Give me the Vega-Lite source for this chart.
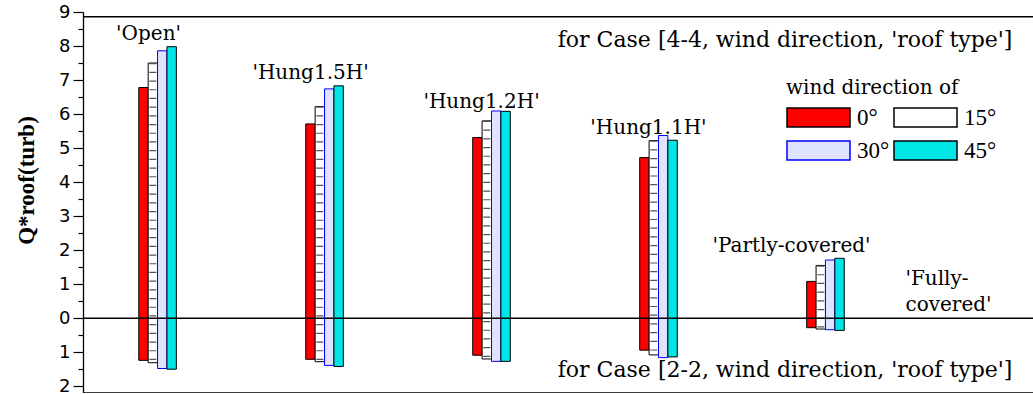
{
  "$schema": "https://vega.github.io/schema/vega-lite/v6.json",
  "width": 984,
  "height": 381,
  "autosize": "none",
  "padding": {"left": 83, "top": 12, "right": 0, "bottom": 0},
  "background": "white",
  "config": {"view": {"stroke": null}},
  "resolve": {"axis": {"y": "independent", "x": "independent"}},
  "datasets": {
    "bars": [
      {"roof": "Open", "dir": "0°", "pos": 6.78, "neg": -1.24},
      {"roof": "Open", "dir": "15°", "pos": 7.5, "neg": -1.31},
      {"roof": "Open", "dir": "30°", "pos": 7.86, "neg": -1.48},
      {"roof": "Open", "dir": "45°", "pos": 7.98, "neg": -1.5},
      {"roof": "Hung1.5H", "dir": "0°", "pos": 5.71, "neg": -1.21},
      {"roof": "Hung1.5H", "dir": "15°", "pos": 6.22, "neg": -1.28},
      {"roof": "Hung1.5H", "dir": "30°", "pos": 6.74, "neg": -1.39},
      {"roof": "Hung1.5H", "dir": "45°", "pos": 6.83, "neg": -1.42},
      {"roof": "Hung1.2H", "dir": "0°", "pos": 5.31, "neg": -1.09},
      {"roof": "Hung1.2H", "dir": "15°", "pos": 5.8, "neg": -1.2},
      {"roof": "Hung1.2H", "dir": "30°", "pos": 6.09, "neg": -1.27},
      {"roof": "Hung1.2H", "dir": "45°", "pos": 6.08, "neg": -1.27},
      {"roof": "Hung1.1H", "dir": "0°", "pos": 4.72, "neg": -0.94},
      {"roof": "Hung1.1H", "dir": "15°", "pos": 5.22, "neg": -1.08},
      {"roof": "Hung1.1H", "dir": "30°", "pos": 5.37, "neg": -1.16},
      {"roof": "Hung1.1H", "dir": "45°", "pos": 5.23, "neg": -1.14},
      {"roof": "Partly-covered", "dir": "0°", "pos": 1.08, "neg": -0.28},
      {"roof": "Partly-covered", "dir": "15°", "pos": 1.55, "neg": -0.32},
      {"roof": "Partly-covered", "dir": "30°", "pos": 1.71, "neg": -0.34},
      {"roof": "Partly-covered", "dir": "45°", "pos": 1.76, "neg": -0.36}
    ]
  },
  "data": {"name": "bars"},
  "layer": [
    {
      "mark": {"type": "bar", "strokeWidth": 1},
      "encoding": {
        "x": {"field": "roof", "type": "nominal", "axis": null,
              "scale": {"domain": ["Open", "Hung1.5H", "Hung1.2H", "Hung1.1H", "Partly-covered", "Fully-covered"], "paddingInner": 0.775, "paddingOuter": 0.334}},
        "xOffset": {"field": "dir", "type": "nominal", "scale": {"domain": ["0°", "15°", "30°", "45°"], "paddingInner": 0, "paddingOuter": 0}},
        "y": {"field": "pos", "type": "quantitative",
              "scale": {"domain": [-2.2, 9], "nice": false, "zero": false},
              "axis": {
                "orient": "left",
                "title": "Q*roof(turb)",
                "values": [-2, -1.5, -1, -0.5, 0, 0.5, 1, 1.5, 2, 2.5, 3, 3.5, 4, 4.5, 5, 5.5, 6, 6.5, 7, 7.5, 8, 8.5, 9],
                "labelExpr": "datum.value % 1 === 0 ? '' + abs(datum.value) : ''",
                "labelOverlap": false,
                "labelFlush": false,
                "labelBound": false,
                "ticks": true,
                "tickSize": 10,
                "tickDash": {"condition": {"test": "datum.value % 1 !== 0", "value": [5, 20]}, "value": [20, 0]},
                "tickColor": "black", "tickWidth": 1.2,
                "domainColor": "black", "domainWidth": 1.3,
                "labelColor": "black", "labelFont": "DejaVu Sans", "labelFontSize": 18, "labelPadding": 3,
                "grid": false,
                "titleFont": "Liberation Serif", "titleFontSize": 23, "titleFontWeight": "bold", "titleColor": "black",
                "titleX": -57, "titleY": 168, "titleAlign": "center", "titleBaseline": "middle"
              }},
        "y2": {"field": "neg"},
        "fill": {"field": "dir", "type": "nominal",
                 "scale": {"domain": ["0°", "15°", "30°", "45°"], "range": ["#ff0000", "#ffffff", "#dfe3ff", "#00e6e6"]},
                 "legend": {"title": "wind direction of", "orient": "none", "legendX": 703, "legendY": 66, "columns": 2, "direction": "horizontal",
                            "symbolType": "M-1,-0.9H5V0.9H-1Z", "symbolSize": 441, "symbolStrokeWidth": 1.5, "symbolOpacity": 1,
                            "labelFont": "Liberation Serif", "labelFontSize": 23, "labelColor": "black", "labelOffset": 48,
                            "titleFont": "DejaVu Serif", "titleFontSize": 20, "titleFontWeight": "normal", "titleColor": "black",
                            "titlePadding": 8, "rowPadding": 8, "columnPadding": 1, "padding": 0}},
        "stroke": {"field": "dir", "type": "nominal",
                   "scale": {"domain": ["0°", "15°", "30°", "45°"], "range": ["#000000", "#000000", "#0000ff", "#000000"]},
                   "legend": {"title": "wind direction of", "orient": "none", "legendX": 703, "legendY": 66, "columns": 2, "direction": "horizontal",
                            "symbolType": "M-1,-0.9H5V0.9H-1Z", "symbolSize": 441, "symbolStrokeWidth": 1.5, "symbolOpacity": 1,
                            "labelFont": "Liberation Serif", "labelFontSize": 23, "labelColor": "black", "labelOffset": 48,
                            "titleFont": "DejaVu Serif", "titleFontSize": 20, "titleFontWeight": "normal", "titleColor": "black",
                            "titlePadding": 8, "rowPadding": 8, "columnPadding": 1, "padding": 0}}
      }
    },
    {
      "transform": [{"filter": "datum.dir === '15°'"}],
      "mark": {"type": "rule", "strokeWidth": 7, "strokeDash": [1.2, 7.5], "color": "#555555"},
      "encoding": {
        "x": {"field": "roof", "type": "nominal", "axis": null},
        "xOffset": {"field": "dir", "type": "nominal"},
        "y": {"field": "pos", "type": "quantitative", "axis": null},
        "y2": {"field": "neg"}
      }
    },
    {
      "data": {"values": [{}]},
      "mark": {"type": "rule", "color": "black", "strokeWidth": 1.5},
      "encoding": {"y": {"datum": 0, "axis": null}}
    },
    {
      "data": {"values": [{}]},
      "mark": {"type": "rule", "color": "black", "strokeWidth": 1.5},
      "encoding": {"y": {"datum": 8.86, "axis": null}}
    },
    {
      "data": {"values": [{}]},
      "mark": {"type": "rule", "color": "black", "strokeWidth": 1.5},
      "encoding": {"y": {"datum": -2.2, "axis": null}}
    },
    {
      "data": {"values": [{"roof": "Open", "label": "'Open'", "ty": 8.18}]},
      "mark": {"type": "text", "font": "DejaVu Serif", "fontSize": 20, "dx": -9, "align": "center", "baseline": "alphabetic", "color": "black"},
      "encoding": {"x": {"field": "roof", "type": "nominal", "axis": null}, "y": {"field": "ty", "type": "quantitative", "axis": null}, "text": {"field": "label"}}
    },
    {
      "data": {"values": [{"roof": "Hung1.5H", "label": "'Hung1.5H'", "ty": 7.03}]},
      "mark": {"type": "text", "font": "DejaVu Serif", "fontSize": 20, "dx": -14, "align": "center", "baseline": "alphabetic", "color": "black"},
      "encoding": {"x": {"field": "roof", "type": "nominal", "axis": null}, "y": {"field": "ty", "type": "quantitative", "axis": null}, "text": {"field": "label"}}
    },
    {
      "data": {"values": [{"roof": "Hung1.2H", "label": "'Hung1.2H'", "ty": 6.17}]},
      "mark": {"type": "text", "font": "DejaVu Serif", "fontSize": 20, "dx": -10, "align": "center", "baseline": "alphabetic", "color": "black"},
      "encoding": {"x": {"field": "roof", "type": "nominal", "axis": null}, "y": {"field": "ty", "type": "quantitative", "axis": null}, "text": {"field": "label"}}
    },
    {
      "data": {"values": [{"roof": "Hung1.1H", "label": "'Hung1.1H'", "ty": 5.41}]},
      "mark": {"type": "text", "font": "DejaVu Serif", "fontSize": 20, "dx": -10, "align": "center", "baseline": "alphabetic", "color": "black"},
      "encoding": {"x": {"field": "roof", "type": "nominal", "axis": null}, "y": {"field": "ty", "type": "quantitative", "axis": null}, "text": {"field": "label"}}
    },
    {
      "data": {"values": [{"roof": "Partly-covered", "label": "'Partly-covered'", "ty": 1.95}]},
      "mark": {"type": "text", "font": "DejaVu Serif", "fontSize": 20, "dx": -34, "align": "center", "baseline": "alphabetic", "color": "black"},
      "encoding": {"x": {"field": "roof", "type": "nominal", "axis": null}, "y": {"field": "ty", "type": "quantitative", "axis": null}, "text": {"field": "label"}}
    },
    {
      "data": {"values": [{"roof": "Fully-covered", "label": "'Fully-", "ty": 0.98}, {"roof": "Fully-covered", "label": "covered'", "ty": 0.21}]},
      "mark": {"type": "text", "font": "DejaVu Serif", "fontSize": 20, "dx": -87, "align": "left", "baseline": "alphabetic", "color": "black"},
      "encoding": {"x": {"field": "roof", "type": "nominal", "axis": null}, "y": {"field": "ty", "type": "quantitative", "axis": null}, "text": {"field": "label"}}
    },
    {
      "data": {"values": [{"roof": "Fully-covered", "label": "for Case [4-4, wind direction, 'roof type']", "ty": 7.98}, {"roof": "Fully-covered", "label": "for Case [2-2, wind direction, 'roof type']", "ty": -1.72}]},
      "mark": {"type": "text", "font": "DejaVu Serif", "fontSize": 22, "dx": 20, "align": "right", "baseline": "alphabetic", "color": "black"},
      "encoding": {"x": {"field": "roof", "type": "nominal", "axis": null}, "y": {"field": "ty", "type": "quantitative", "axis": null}, "text": {"field": "label"}}
    }
  ]
}
